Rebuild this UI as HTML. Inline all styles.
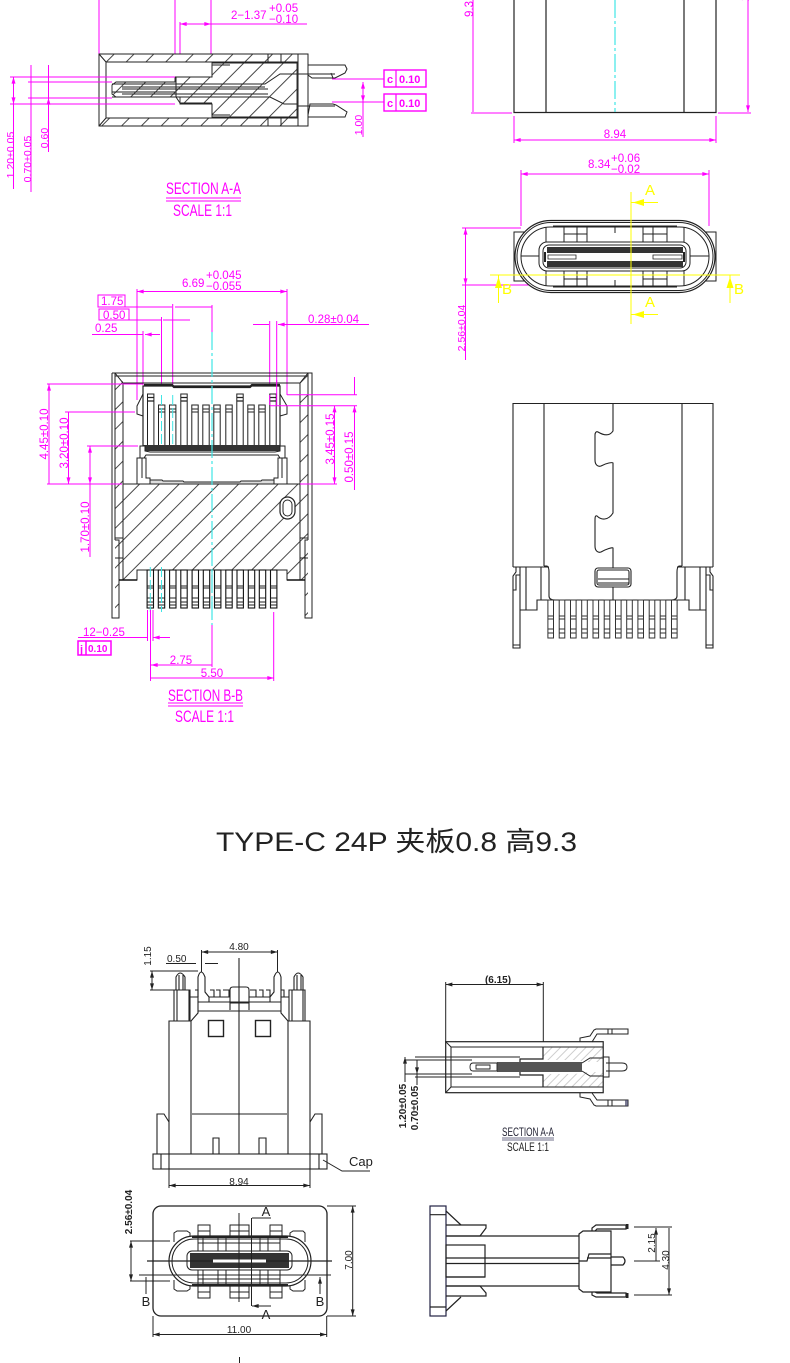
<!DOCTYPE html>
<html><head><meta charset="utf-8"><style>
html,body{margin:0;padding:0;background:#fff}
svg{display:block}
text{font-family:"Liberation Sans","Noto Sans CJK SC",sans-serif}
.k{fill:none;stroke:#222;stroke-width:1}
.kb{fill:none;stroke:#111;stroke-width:1.4}
.m{fill:none;stroke:#f0f;stroke-width:1}
.a{fill:none;stroke:#f0f;stroke-width:1;marker-start:url(#ma);marker-end:url(#ma)}
.ae{fill:none;stroke:#f0f;stroke-width:1;marker-end:url(#ma)}
.b{fill:none;stroke:#222;stroke-width:1;marker-start:url(#ba);marker-end:url(#ba)}
.be{fill:none;stroke:#222;stroke-width:1;marker-end:url(#ba)}
.c{fill:none;stroke:#3fe5e5;stroke-width:1.2;stroke-dasharray:18 3 3 3}
.y{fill:none;stroke:#ff0;stroke-width:1}
.t{fill:#f0f;font-size:11.5px}
.s{fill:#f0f;font-size:10.5px}
.d{fill:#222;font-size:10px}
.ty{fill:#ff0;font-size:15px}
.sec{fill:#f0f;font-size:17px}
</style></head><body>
<svg xmlns="http://www.w3.org/2000/svg" width="790" height="1363" viewBox="0 0 790 1363">
<defs>
<marker id="ma" viewBox="0 0 10 6" refX="10" refY="3" markerWidth="7" markerHeight="4" orient="auto-start-reverse" markerUnits="userSpaceOnUse"><path d="M0 0L10 3L0 6z" fill="#f0f"/></marker>
<marker id="ba" viewBox="0 0 10 6" refX="10" refY="3" markerWidth="7" markerHeight="4" orient="auto-start-reverse" markerUnits="userSpaceOnUse"><path d="M0 0L10 3L0 6z" fill="#222"/></marker>
<pattern id="hat" width="14" height="14" patternUnits="userSpaceOnUse" patternTransform="rotate(-45)"><path d="M0 7H14" stroke="#333" stroke-width=".9"/></pattern>
<pattern id="hat2" width="6" height="6" patternUnits="userSpaceOnUse" patternTransform="rotate(-45)"><path d="M0 3H6" stroke="#333" stroke-width=".7"/></pattern>
<g id="pu"><rect x="-3.2" y="0" width="6.4" height="54" fill="#fff" stroke="#222" stroke-width="1"/><path d="M-3.2 3.5H3.2M-3.2 7H3.2" stroke="#222" stroke-width="1.2"/></g>
<g id="ps"><rect x="-3.2" y="0" width="6.4" height="43" fill="#fff" stroke="#222" stroke-width="1"/><path d="M-3.2 4H3.2M-3.2 7H3.2" stroke="#222" stroke-width="1"/></g>
<g id="pl"><rect x="-3.2" y="0" width="6.4" height="38" fill="#fff" stroke="#111" stroke-width="1.1"/><path d="M-3.2 16H3.2M-3.2 18H3.2M-3.2 28H3.2M-3.2 32H3.2M-3.2 35H3.2" stroke="#222" stroke-width=".9"/></g>
<g id="pr"><rect x="-2.8" y="0" width="5.6" height="38" fill="#fff" stroke="#333" stroke-width="1"/><path d="M-2.8 16H2.8M-2.8 19H2.8M-2.8 29H2.8M-2.8 33H2.8" stroke="#333" stroke-width=".9"/></g>
</defs>
<rect width="790" height="1363" fill="#fff"/>

<!-- Section A-A top -->
<path d="M99 0V54M175 0V78M211 0V54M180 22V74" class="m"/>
<path d="M180 24H211" class="a"/><path d="M211 24H307" class="m"/>
<text x="231" y="19" class="t">2−1.37</text><text x="269" y="12" class="t">+0.05</text><text x="269" y="23" class="t">−0.10</text>
<rect x="99" y="54" width="209" height="72" fill="#fff" stroke="#222"/>
<path d="M99 54H298V62H106ZM99 126H298V118H106Z" fill="url(#hat)"/>
<path d="M99 54L106 62V118L99 126M106 62H298M106 118H298M298 54V126M268 54V62M268 118V126M281 54V62M281 118V126" class="k"/>
<path d="M212 63H297V117H212V104H180V97H116L112 94V85L116 82H175V77H212Z" fill="url(#hat)" stroke="#222" stroke-width=".9"/>
<path d="M212 77V65H230M212 104V115H230M112 84H265L280 74H297M112 92H175M122 87H265M122 89H268M122 94H268M112 97H270L284 104H297" class="k"/>
<path d="M176 77V97L180 103H212" class="k"/>
<path d="M308 65H345L347 69L345 73L335 78H312L308 75M333 78L331 73M308 117H345M308 115L310 104H333L336 105L347 112L345 117H308" class="k"/>
<path d="M298 74H335M298 106H335" class="k"/>
<path d="M10 77H175M28 82H112M28 98H112M10 104H175M332 79H384M332 102H384" class="m"/>
<path d="M13.500 77V104" class="a"/><path d="M13.500 104V189M31 65V192M48.500 65V152" class="m"/>
<path d="M31 68V82M31 110V98M48.500 68V82M48.500 110V98" class="ae"/>
<path d="M363 82V102" class="a"/><path d="M363 102V137" class="m"/>
<text transform="translate(14,155) rotate(-90)" class="s" text-anchor="middle">1.20±0.05</text>
<text transform="translate(31,159) rotate(-90)" class="s" text-anchor="middle">0.70±0.05</text>
<text transform="translate(48,138) rotate(-90)" class="s" text-anchor="middle">0.60</text>
<text transform="translate(362,125) rotate(-90)" class="s" text-anchor="middle">1.00</text>
<g fill="#fff" stroke="#f0f" stroke-width="1.4"><rect x="384" y="70" width="42" height="17"/><rect x="384" y="94" width="42" height="17"/></g>
<path d="M396 70V87M396 94V111" stroke="#f0f" stroke-width="1.2"/>
<g style="font-weight:700" fill="#f0f" font-size="11"><text x="387" y="83">c</text><text x="399" y="83">0.10</text><text x="387" y="107">c</text><text x="399" y="107">0.10</text></g>
<text x="166" y="194" textLength="75" lengthAdjust="spacingAndGlyphs" class="sec">SECTION A-A</text>
<path d="M166 198H241M166 201H241" class="m"/>
<text x="173" y="216" textLength="59" lengthAdjust="spacingAndGlyphs" class="sec">SCALE 1:1</text>

<!-- Top right side view -->
<path d="M514 0V112.500H716V0M546 0V112.500M684 0V112.500" class="k" style="stroke-width:1.2"/>
<path d="M615 0V112" class="c"/>
<path d="M473 0V112M748 0V112" class="ae"/>
<path d="M471 113H512M718 113H751M514 116V143M716 116V143" class="m"/>
<path d="M514 140H716" class="a"/>
<text x="615" y="138" class="t" text-anchor="middle">8.94</text>
<text transform="translate(473,9) rotate(-90)" class="t" text-anchor="middle">9.3</text>
<text transform="translate(749,-2) rotate(-90)" class="t" text-anchor="middle">1</text>

<!-- Front view -->
<path d="M521 170V226M709 170V226" class="m"/>
<path d="M521 174H709" class="a"/>
<text x="588" y="168" class="t">8.34</text><text x="611" y="162" class="t">+0.06</text><text x="611" y="173" class="t">−0.02</text>
<path d="M462 228H521M462 285H540" class="m"/>
<path d="M465.500 228V285" class="a"/><path d="M465.500 285V360" class="m"/>
<text transform="translate(465,328) rotate(-90)" class="s" text-anchor="middle">2.56±0.04</text>
<path d="M514 232H716V281H514Z" class="k"/>
<rect x="515" y="220.500" width="200" height="72" rx="36" fill="#fff" stroke="#222" stroke-width="1.2"/>
<rect x="517" y="222.500" width="196" height="68" rx="34" fill="none" stroke="#222"/>
<rect x="521" y="227" width="188" height="59" rx="29.500" class="k"/>
<path d="M546 227V286M684 227V286M553 226H677M553 287H677M564 227V243M577 227V243M587 227V243M643 227V243M653 227V243M667 227V243M564 270V287M577 270V287M587 270V287M643 270V287M653 270V287M667 270V287M564 234H587M643 234H667M564 279H587M643 279H667M615 227V233M615 280V287" class="k"/>
<path d="M521 256H540M690 256H709" class="k"/>
<rect x="539" y="242" width="151" height="29" rx="8" fill="#fff" stroke="#222"/>
<rect x="543" y="245" width="143" height="23" rx="6" fill="#fff" stroke="#222"/>
<path d="M547 247H683V253H547ZM547 261H683V267H547Z" fill="#333"/>
<path d="M545 252V262M684 252V262" stroke="#222" stroke-width="2"/>
<path d="M548 255H576V259H548ZM653 255H682V259H653Z" fill="#fff" stroke="#222" stroke-width=".8"/>
<path d="M631 192V324M490 275H740" class="y"/>
<path d="M631 202.500H658M631 314.500H658M498.500 275V303M730 275V303" class="y"/>
<path d="M633 202.500L644 199V206ZM633 314.500L644 311V318ZM498.500 277L495 288H502ZM730 277L726.500 288H733.500Z" fill="#ff0"/>
<g class="ty" text-anchor="middle"><text x="650" y="195">A</text><text x="650" y="307">A</text><text x="507" y="294">B</text><text x="739" y="294">B</text></g>

<!-- Section B-B -->
<path d="M137 289V400M287 289V395M143 331V385M161.500 317V395M172.700 304V395M269.700 321V405M276.700 321V405" class="m"/>
<path d="M137 291.500H287" class="a"/>
<text x="182" y="287" class="t">6.69</text><text x="206" y="279" class="t">+0.045</text><text x="206" y="290" class="t">−0.055</text>
<rect x="98" y="295" width="27" height="12" class="m"/><text x="101" y="305" class="t">1.75</text>
<rect x="99" y="309" width="30" height="11" class="m"/><text x="103" y="319" class="t">0.50</text>
<path d="M125 307H172M99 320H161M92 334.500H143" class="m"/>
<path d="M212 307H175M190 320H163M160 334.500H145" class="ae"/>
<text x="95" y="332" class="t">0.25</text>
<path d="M253 324.500H269M369 324.500H278" class="ae"/>
<text x="308" y="323" class="t">0.28±0.04</text>
<path d="M212 305V332M212 625V667" class="m"/>
<path d="M115 373H123V580H119V618H115ZM300 373H308V618H305V580H300Z" fill="url(#hat)"/>
<path d="M112 373H312V618H305V540H308M112 373V618H119V540H115M115 373V540M123 383V580M123 383H300M300 383V580M308 373V540M115 373L123 383M308 373L300 383M115 376H308M119 540V580M305 540V580" class="k"/>
<path d="M115 538H123V558H115M308 538H300V558H308" class="k"/>
<path d="M123 484H300V580H287V570H137V580H123Z" fill="url(#hat)" stroke="#222"/>
<path d="M119 580H137M287 580H305" class="kb"/>
<path d="M143 386H280V448H143Z" fill="#fff" stroke="#222" stroke-width="1.2"/>
<path d="M144 385H172L174 387H250L252 385H280" stroke="#222" stroke-width="2.200" fill="none"/>
<use href="#pu" x="150.700" y="394"/><use href="#pu" x="184" y="394"/><use href="#pu" x="240" y="394"/><use href="#pu" x="273" y="394"/>
<use href="#ps" x="161.700" y="405"/><use href="#ps" x="172.700" y="405"/><use href="#ps" x="195" y="405"/><use href="#ps" x="206" y="405"/><use href="#ps" x="217" y="405"/><use href="#ps" x="229" y="405"/><use href="#ps" x="251" y="405"/><use href="#ps" x="262" y="405"/>
<path d="M161.500 395V445M172.700 395V445" stroke="#3fe5e5" stroke-width="1" stroke-dasharray="10 3" fill="none"/>
<path d="M269.700 395V405M276.700 380V405" stroke="#f0f" fill="none"/>
<path d="M143 445H280V451H143Z" fill="#333"/>
<path d="M143 394L137 406V414L143 416M280 394L287 406V414L280 416" class="k"/>
<path d="M140 446H145V451L150 452H275L280 451V446H285V458H280L278 455H146L144 458H140ZM137 458H146V478H150V484H137ZM287 458H278V478H274V484H287ZM142 458V478M282 458V478" fill="#fff" stroke="#222"/>
<path d="M150 480H162L163 481H183L184 482H240L241 481H261L262 480H274V484H150Z" fill="#ddd" stroke="#222"/>
<path d="M212 332V625" class="c"/>
<rect x="280" y="497" width="15" height="22" rx="7.500" fill="#fff" stroke="#222" stroke-width="1.200"/>
<rect x="283" y="500" width="9" height="16" rx="4.500" class="k"/>
<g><use href="#pl" x="150.300" y="570"/><use href="#pl" x="161.500" y="570"/><use href="#pl" x="172.800" y="570"/><use href="#pl" x="184" y="570"/><use href="#pl" x="195.300" y="570"/><use href="#pl" x="206.500" y="570"/><use href="#pl" x="217.700" y="570"/><use href="#pl" x="229" y="570"/><use href="#pl" x="240.200" y="570"/><use href="#pl" x="251.500" y="570"/><use href="#pl" x="262.500" y="570"/><use href="#pl" x="273.700" y="570"/></g>
<path d="M150.300 567V612M161.500 567V612M212 570V608" stroke="#3fe5e5" stroke-dasharray="10 3" fill="none"/>
<path d="M47 384H143M47 484H122M65 412H135M87 446H138" class="m"/>
<path d="M49 384V484M68.500 412V484" class="a"/>
<path d="M90 446V557" class="m"/>
<path d="M90 446V484" class="a"/>
<text transform="translate(48,434) rotate(-90)" class="t" text-anchor="middle">4.45±0.10</text>
<text transform="translate(68,443) rotate(-90)" class="t" text-anchor="middle">3.20±0.10</text>
<text transform="translate(89,527) rotate(-90)" class="t" text-anchor="middle">1.70±0.10</text>
<path d="M287 394.700H357M270 405.700H357M300 484H337" class="m"/>
<path d="M334.500 405.700V484" class="a"/>
<path d="M354.500 377V394.700M354.500 423V405.700" class="ae"/><path d="M354.500 423V490" class="m"/>
<text transform="translate(334,439) rotate(-90)" class="t" text-anchor="middle">3.45±0.15</text>
<text transform="translate(353,457) rotate(-90)" class="t" text-anchor="middle">0.50±0.15</text>
<path d="M147.500 610V641M153 610V641" class="m"/>
<path d="M78 637.500H147M170 637.500H153" class="ae"/>
<text x="83" y="636" class="t">12−0.25</text>
<rect x="78" y="641" width="33" height="14" stroke="#f0f" stroke-width="1.500" fill="none"/><path d="M86 641V655" stroke="#f0f" stroke-width="1.500"/>
<text x="80" y="653" fill="#f0f" font-size="11" font-weight="700">j</text><text x="88" y="652" fill="#f0f" font-size="10" font-weight="700">0.10</text>
<path d="M150.500 610V681M273.700 612V681" class="m"/>
<path d="M151 665H212M151 678H274" class="a"/>
<text x="181" y="664" class="t" text-anchor="middle">2.75</text><text x="212" y="677" class="t" text-anchor="middle">5.50</text>
<text x="168" y="701" textLength="75" lengthAdjust="spacingAndGlyphs" class="sec">SECTION B-B</text>
<path d="M168 703H243M168 706H243" class="m"/>
<text x="175" y="722" textLength="59" lengthAdjust="spacingAndGlyphs" class="sec">SCALE 1:1</text>

<!-- Right outline view -->
<g class="k" style="stroke-width:1.1">
<path d="M513 567V403.500H713V567M544 403.500V566M682 403.500V566"/>
<path d="M613 403.500V431C609 437 603 435 598 432C596 431 595 433 595 435V460C595 465 598 467 601 466C606 463 613 462 613 463V513C608 521 601 520 597 516C595 515 595 518 595 520V546C595 551 598 553 601 552C606 549 613 547 613 548V568M613 587V600"/>
<rect x="595" y="568" width="36" height="19" rx="3"/>
<rect x="597" y="570" width="32" height="15" rx="2"/>
<path d="M598 579H629M598 583H629"/>
<path d="M544 566H547C549 567 549 570 549 572V596C549 599 552 600 555 600H671C674 600 677 599 677 596V572C677 570 677 567 679 566H682"/>
<path d="M520 567H549M520 567V610H537V600H549M526 567V610M541 567V600M513 567H520M516 567H520V575H516V590H513V576L516 572ZM513 590V648H520V590M513 645H520"/>
<path d="M706 567H677M706 567V610H689V600H677M700 567V610M685 567V600M713 567H706M710 567H706V575H710V590H713V576L710 572ZM713 590V648H706V590M713 645H706"/>
</g>
<use href="#pr" x="550.700" y="600"/><use href="#pr" x="562" y="600"/><use href="#pr" x="573.300" y="600"/><use href="#pr" x="584.500" y="600"/><use href="#pr" x="595.800" y="600"/><use href="#pr" x="607" y="600"/><use href="#pr" x="618.300" y="600"/><use href="#pr" x="629.500" y="600"/><use href="#pr" x="640.700" y="600"/><use href="#pr" x="652" y="600"/><use href="#pr" x="663" y="600"/><use href="#pr" x="674.300" y="600"/>

<!-- Title -->
<text x="216" y="851" textLength="361" lengthAdjust="spacingAndGlyphs" fill="#222" font-size="27">TYPE-C 24P 夹板0.8 高9.3</text>

<!-- Lower front view -->
<g class="k" style="stroke-width:1.1">
<rect x="153" y="1154" width="174" height="15" fill="#fff"/>
<path d="M161 1154V1169M319 1154V1169M169 1154V1169M310 1154V1169"/>
<path d="M169 1154V1021H191M310 1154V1021H288M191 1021V1154M288 1021V1154M239 958V1154M192 1114H287"/>
<path d="M213 1154V1138H219V1154M259 1154V1138H266V1154"/>
<path d="M157 1154V1114H164L169 1122M322 1154V1114H315L310 1122"/>
<rect x="208.500" y="1020.500" width="15" height="16" style="stroke-width:1.4"/><rect x="255.500" y="1020.500" width="15" height="16" style="stroke-width:1.4"/>
<path d="M174 1021V990H190V1021M177 1021V990M189 1021V990M289 1021V990H305V1021M292 1021V990M303 1021V990"/>
<path d="M176 990V977Q180 969 185 977V990M179 990V975M183 990V975M294 990V977Q298 969 303 977V990M297 990V975M301 990V975"/>
<path d="M190 997H198V1013L191 1021M289 997H281V1013L288 1021"/>
<path d="M198 997V977Q201 967 205 977V992L209 997V1002M281 997V977Q278 967 274 977V992L270 997V1002"/>
<path d="M198 1002H281M198 1011H281M209 997H230M249 997H270M230 1010V990Q230 987 233 987H246Q249 987 249 990V1010M230 1003H249"/>
<path d="M195 990H198V997M210 990H214V997M216 990H220V997M223 990H229V997M250 990H256V997M259 990H263V997M266 990H270V997M281 990H284V997"/>
</g>
<path d="M201.500 950V972M277.500 950V972M150 971H198M150 990H174M169 1169V1188M310 1169V1188" class="k"/>
<path d="M201.500 952H277.500" class="b"/>
<path d="M166 963.500H196M218 963.500H205" class="k"/>
<path d="M152 971V990" class="b"/>
<path d="M169 1185.500H310" class="b"/>
<text x="239" y="950" class="d" text-anchor="middle">4.80</text>
<text x="167" y="962" class="d">0.50</text>
<text transform="translate(151,956) rotate(-90)" class="d" text-anchor="middle">1.15</text>
<text x="239" y="1185" class="d" text-anchor="middle">8.94</text>
<path d="M323 1160L342 1171H370" class="k"/>
<text x="349" y="1166" fill="#222" font-size="13">Cap</text>

<!-- Lower Section A-A -->
<path d="M445.700 982V1042M543.300 982V1047" class="k"/>
<path d="M445.700 984.500H543.300" class="b"/>
<text x="498" y="983" class="d" text-anchor="middle" font-weight="700">(6.15)</text>
<rect x="445.700" y="1041.700" width="157.500" height="51" fill="#fff" stroke="#222" stroke-width="1.200"/>
<path d="M445.700 1041.700L451 1047V1087L445.700 1092.700M451 1047H603M451 1087H603" class="k"/>
<path d="M544 1047H603V1062H587L575 1060H543V1049ZM544 1087H603V1072H587L575 1074H543V1085Z" fill="url(#hat2)" opacity=".35"/>
<path d="M543 1047V1059H520V1075H543V1087" stroke="#222" stroke-width="1.200" fill="none"/>
<path d="M497 1062H582V1072H497Z" fill="#555"/>
<path d="M473 1063H497V1071H473Q470 1071 470 1067Q470 1063 473 1063ZM476 1065H490V1069H476Z" fill="#fff" stroke="#222" stroke-width=".9"/>
<path d="M415 1057H520M415 1077H520M405 1060H472M405 1074H472" class="k"/>
<path d="M405 1057V1077M417 1060V1074" class="b"/>
<path d="M405 1077V1082M417 1074V1085" class="k"/>
<path d="M580 1042V1038L590 1036L594 1030L596 1029H628V1034H597L592 1042M580 1093V1097L590 1099L594 1105L596 1106H628V1100H597L592 1093M608 1029V1034M612 1029V1034M608 1100V1106M612 1100V1106" class="k"/>
<path d="M603 1057H609V1077H603M582 1063L590 1058H603M582 1071L590 1076H603M606 1063H622Q627 1063 627 1067Q627 1071 622 1071H606" class="k"/>
<rect x="625" y="1100" width="3" height="6" fill="#446" opacity=".7"/>
<text transform="translate(406,1106) rotate(-90)" class="d" text-anchor="middle" font-weight="700">1.20±0.05</text>
<text transform="translate(418,1108) rotate(-90)" class="d" text-anchor="middle" font-weight="700">0.70±0.05</text>
<text x="502" y="1136" textLength="52" lengthAdjust="spacingAndGlyphs" fill="#223" font-size="12">SECTION A-A</text>
<path d="M502 1138H554M502 1140H554" stroke="#446" stroke-width=".8"/>
<text x="507" y="1151" textLength="42" lengthAdjust="spacingAndGlyphs" fill="#222" font-size="12">SCALE 1:1</text>

<!-- Lower footprint view -->
<rect x="153" y="1206" width="174" height="110" rx="8" fill="#fff" stroke="#222" stroke-width="1.300"/>
<path d="M198 1236V1225H210V1236M230 1236V1225H249V1236M270 1236V1225H282V1236M198 1286V1298H210V1286M230 1286V1298H249V1286M270 1286V1298H282V1286M198 1231H210M230 1231H249M270 1231H282M198 1292H210M230 1292H249M270 1292H282" class="k"/>
<path d="M174 1242V1233L177 1231H187L190 1233V1242M290 1242V1233L293 1231H303L305 1233V1242M174 1280V1289L177 1291H187L190 1289V1280M290 1280V1289L293 1291H303L305 1289V1280" class="k"/>
<rect x="169" y="1236" width="142" height="50" rx="25" fill="#fff" stroke="#222" stroke-width="1.200"/>
<rect x="172" y="1239" width="136" height="44" rx="22" class="k"/>
<path d="M192 1237H288M192 1285H288" stroke="#222" stroke-width="2" fill="none"/>
<path d="M198 1238V1251M203 1238V1251M218 1238V1251M226 1238V1251M260 1238V1251M268 1238V1251M280 1238V1251M198 1270V1285M203 1270V1285M218 1270V1285M226 1270V1285M260 1270V1285M268 1270V1285M280 1270V1285M198 1243H280M198 1279H280" class="k"/>
<rect x="187" y="1251" width="105" height="19" rx="5" fill="#fff" stroke="#222"/>
<path d="M190 1253H289V1268H190Z" fill="#333"/>
<path d="M213 1259.500H266V1262.500H213Z" fill="#fff"/>
<path d="M147 1261H213M266 1261H332" stroke="#222" stroke-width="1.200"/>
<path d="M239 1213V1302M251.500 1218V1306M139 1275H331" class="k"/>
<path d="M271 1218H252M271 1306H252" class="be"/>
<path d="M146 1294V1277M320 1294V1277" class="be"/>
<g fill="#222" font-size="13" text-anchor="middle"><text x="266" y="1216">A</text><text x="266" y="1319">A</text><text x="146" y="1306">B</text><text x="320" y="1306">B</text></g>
<path d="M130 1241H170M130 1281H170" class="k"/><path d="M131 1241V1281" class="b"/>
<text transform="translate(132,1212) rotate(-90)" class="d" text-anchor="middle" font-weight="700">2.56±0.04</text>
<path d="M327 1206H356M327 1316H356" class="k"/><path d="M352.700 1206V1316" class="b"/>
<text transform="translate(352,1260) rotate(-90)" class="d" text-anchor="middle">7.00</text>
<path d="M153 1316V1337M326.700 1316V1337" class="k"/><path d="M153 1334.500H326.700" class="b"/>
<text x="239" y="1333" class="d" text-anchor="middle">11.00</text>
<path d="M239.500 1357V1363" class="k"/>

<!-- Lower right side view -->
<g class="k" style="stroke-width:1.2">
<rect x="430" y="1206" width="16" height="110" stroke="#224"/>
<path d="M430 1214.700H446M430 1307H446M446 1211L461 1225M446 1311L461 1297"/>
<path d="M446 1225H486V1228L480 1236H446M446 1286H480L486 1293V1296H446"/>
<rect x="446" y="1245" width="39" height="32"/>
<path d="M446 1236H579M446 1286H579M446 1258H579M446 1263.500H587M485 1277H446"/>
<path d="M579 1234L583 1231H611V1292H583L579 1289Z" fill="#fff"/>
<path d="M592 1231V1228L596 1225H626V1229H597L595 1231M592 1292V1295L596 1297H626V1293H597L595 1292"/>
<path d="M579 1261H587L589 1254H611M611 1257H623Q627 1261 623 1265H611M587 1258H611"/>
</g>
<rect x="626" y="1224" width="2.500" height="5" fill="#222"/><rect x="626" y="1293" width="2.500" height="5" fill="#222"/>
<path d="M634 1227H672M634 1261H660M634 1295H672" class="k"/>
<path d="M656 1228V1261M669 1228V1295" class="b"/>
<text transform="translate(655,1243) rotate(-90)" class="d" text-anchor="middle">2.15</text>
<text transform="translate(669,1260) rotate(-90)" class="d" text-anchor="middle">4.30</text>
</svg>
</body></html>
